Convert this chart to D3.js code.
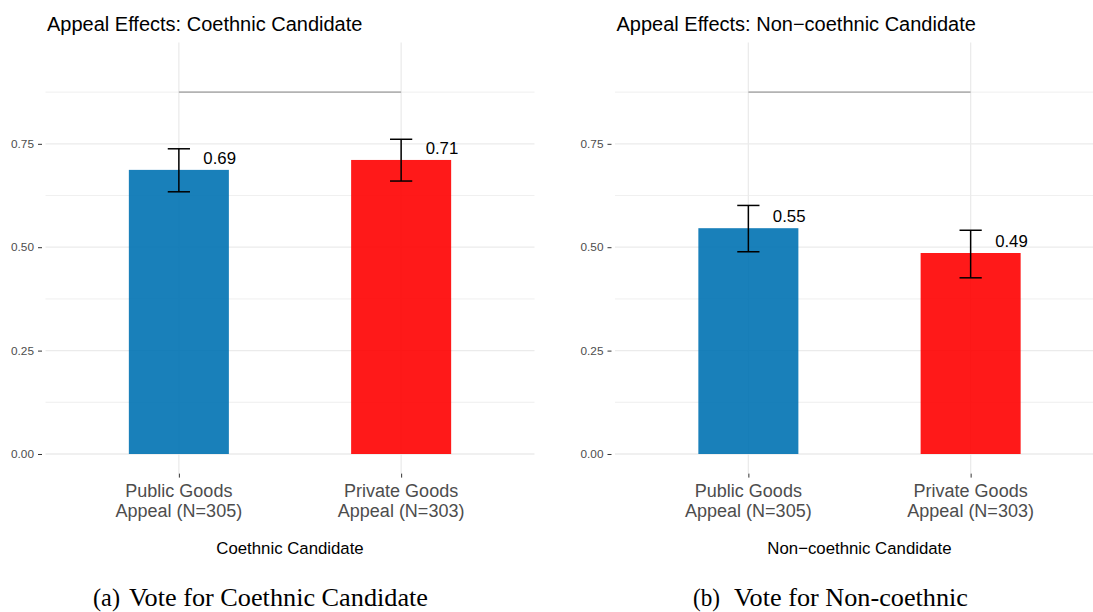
<!DOCTYPE html>
<html>
<head>
<meta charset="utf-8">
<script src="https://cdn.jsdelivr.net/npm/d3@7"></script>
<style>
  html, body { margin: 0; padding: 0; background: #ffffff; }
  svg { display: block; }
</style>
</head>
<body>
<svg id="chart" width="1093" height="612"></svg>
<script>
// Appeal categories shown on both panels (two-line tick labels)
const categories = ["Public Goods|Appeal (N=305)", "Private Goods|Appeal (N=303)"];

// Share voting for the coethnic candidate, with 95% interval bounds
const coethnicMean  = [0.687, 0.711];
const coethnicLower = [0.634, 0.660];
const coethnicUpper = [0.738, 0.761];

// Share voting for the non-coethnic candidate, with 95% interval bounds
const noncoMean  = [0.546, 0.486];
const noncoLower = [0.489, 0.426];
const noncoUpper = [0.601, 0.541];

// Comparison bracket height and y-axis breaks
const bracketLevel = 0.875;
const yMajorTicks = [0, 0.25, 0.5, 0.75];
const yMinorTicks = [0.125, 0.375, 0.625, 0.875];

const barColors = ["#0072B2", "#FF0000"];

const panels = [
  {
    title: "Appeal Effects: Coethnic Candidate",
    xTitle: "Coethnic Candidate",
    caption: ["(a)", "Vote for Coethnic Candidate"],
    captionX: [93, 129], captionWidth: 299,
    mean: coethnicMean, lower: coethnicLower, upper: coethnicUpper,
    left: 45.5, right: 534.5
  },
  {
    title: "Appeal Effects: Non\u2212coethnic Candidate",
    xTitle: "Non\u2212coethnic Candidate",
    caption: ["(b)", "Vote for Non-coethnic"],
    captionX: [693, 734], captionWidth: 234,
    mean: noncoMean, lower: noncoLower, upper: noncoUpper,
    left: 615, right: 1104
  }
];

const svg = d3.select("#chart");
const plotTop = 42.5, plotBottom = 473.6;
const sans = "'Liberation Sans', Arial, Helvetica, sans-serif";
const serif = "'Liberation Serif', 'Times New Roman', serif";
const fmt = d3.format(".2f");

const y = d3.scaleLinear().domain([-0.0474, 0.995]).range([plotBottom, plotTop]);

panels.forEach(p => {
  const g = svg.append("g");
  const x = d3.scalePoint().domain(categories).range([p.left, p.right]).padding(0.6);
  const step = x.step();
  const barW = step * 0.45;
  const whisker = step * 0.1;

  // grid: minor horizontals, major horizontals, major verticals
  g.append("g").selectAll("line").data(yMinorTicks).join("line")
    .attr("x1", p.left).attr("x2", p.right)
    .attr("y1", d => y(d)).attr("y2", d => y(d))
    .attr("stroke", "#ebebeb").attr("stroke-width", 0.8);
  g.append("g").selectAll("line").data(yMajorTicks).join("line")
    .attr("x1", p.left).attr("x2", p.right)
    .attr("y1", d => y(d)).attr("y2", d => y(d))
    .attr("stroke", "#ebebeb").attr("stroke-width", 1.3);
  g.append("g").selectAll("line").data(categories).join("line")
    .attr("x1", d => x(d)).attr("x2", d => x(d))
    .attr("y1", plotTop).attr("y2", plotBottom)
    .attr("stroke", "#ebebeb").attr("stroke-width", 1.3);

  const rows = categories.map((c, i) => ({
    cat: c, mean: p.mean[i], lo: p.lower[i], hi: p.upper[i], color: barColors[i]
  }));

  // bars
  g.append("g").selectAll("rect").data(rows).join("rect")
    .attr("x", d => x(d.cat) - barW / 2)
    .attr("width", barW)
    .attr("y", d => y(d.mean))
    .attr("height", d => y(0) - y(d.mean))
    .attr("fill", d => d.color)
    .attr("fill-opacity", 0.9);

  // error bars
  const eb = g.append("g").attr("stroke", "#000").attr("stroke-width", 1.5).attr("fill", "none");
  rows.forEach(d => {
    const cx = x(d.cat);
    eb.append("line").attr("x1", cx).attr("x2", cx).attr("y1", y(d.lo)).attr("y2", y(d.hi));
    eb.append("line").attr("x1", cx - whisker / 2).attr("x2", cx + whisker / 2).attr("y1", y(d.lo)).attr("y2", y(d.lo));
    eb.append("line").attr("x1", cx - whisker / 2).attr("x2", cx + whisker / 2).attr("y1", y(d.hi)).attr("y2", y(d.hi));
  });

  // value labels
  g.append("g").selectAll("text").data(rows).join("text")
    .attr("x", d => x(d.cat) + 24.5)
    .attr("y", d => y(d.mean) - 5.7)
    .attr("font-family", sans).attr("font-size", 16.8).attr("fill", "#000")
    .text(d => fmt(d.mean));

  // comparison bracket
  g.append("line")
    .attr("x1", x(categories[0])).attr("x2", x(categories[1]))
    .attr("y1", y(bracketLevel)).attr("y2", y(bracketLevel))
    .attr("stroke", "#b3b3b3").attr("stroke-width", 1.8);

  // y axis
  const ya = g.append("g").attr("transform", `translate(${p.left - 3.5},0)`)
    .call(d3.axisLeft(y).tickValues(yMajorTicks).tickSize(4).tickPadding(4).tickFormat(fmt));
  ya.select(".domain").remove();
  ya.selectAll(".tick line").attr("stroke", "#333333").attr("stroke-width", 1);
  ya.selectAll(".tick text").attr("font-family", sans).attr("font-size", 11.8).attr("fill", "#4d4d4d");

  // x axis
  const xa = g.append("g").attr("transform", `translate(0,${plotBottom})`)
    .call(d3.axisBottom(x).tickSize(4).tickFormat(""));
  xa.select(".domain").remove();
  xa.selectAll(".tick line").attr("stroke", "#333333").attr("stroke-width", 1);
  g.append("g").selectAll("text").data(categories).join("text")
    .attr("x", d => x(d)).attr("y", 496.7)
    .attr("text-anchor", "middle")
    .attr("font-family", sans).attr("font-size", 18).attr("fill", "#4d4d4d")
    .each(function(d) {
      const lines = d.split("|");
      d3.select(this).selectAll("tspan").data(lines).join("tspan")
        .attr("x", x(d)).attr("dy", (l, i) => i === 0 ? 0 : 20)
        .text(l => l);
    });

  // x axis title
  g.append("text")
    .attr("x", (p.left + p.right) / 2).attr("y", 554)
    .attr("text-anchor", "middle")
    .attr("font-family", sans).attr("font-size", 16.8).attr("fill", "#000")
    .text(p.xTitle);

  // panel title
  g.append("text")
    .attr("x", p.left + 1.5).attr("y", 30.5)
    .attr("font-family", sans).attr("font-size", 20).attr("fill", "#000")
    .text(p.title);

  // subfigure caption
  g.append("text").attr("x", p.captionX[0]).attr("y", 606)
    .attr("font-family", serif).attr("font-size", 25).attr("fill", "#000")
    .attr("textLength", 27).attr("lengthAdjust", "spacingAndGlyphs")
    .text(p.caption[0]);
  g.append("text").attr("x", p.captionX[1]).attr("y", 606)
    .attr("font-family", serif).attr("font-size", 25).attr("fill", "#000")
    .attr("textLength", p.captionWidth).attr("lengthAdjust", "spacingAndGlyphs")
    .text(p.caption[1]);
});
</script>
</body>
</html>
